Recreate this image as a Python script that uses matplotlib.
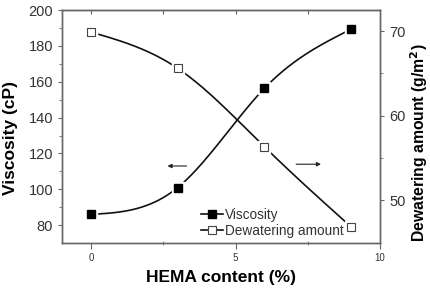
import numpy as np
import matplotlib
matplotlib.use("Agg")
import matplotlib.pyplot as plt
from matplotlib.lines import Line2D

plt.rcParams['font.family'] = ['Liberation Sans', 'DejaVu Sans']

# data
hema = [0, 3, 6, 9]
viscosity = [86, 101, 156.4, 189.4]
dewatering = [69.9, 65.6, 56.3, 46.8]


def smooth(x, y, n=200):
    # natural cubic spline through the points (Origin-style smoothed line)
    x = np.asarray(x, float)
    y = np.asarray(y, float)
    k = len(x)
    h = np.diff(x)
    A = np.zeros((k, k))
    b = np.zeros(k)
    A[0, 0] = A[-1, -1] = 1
    for i in range(1, k - 1):
        A[i, i - 1] = h[i - 1]
        A[i, i] = 2 * (h[i - 1] + h[i])
        A[i, i + 1] = h[i]
        b[i] = 3 * ((y[i + 1] - y[i]) / h[i] - (y[i] - y[i - 1]) / h[i - 1])
    c = np.linalg.solve(A, b)
    xs = np.linspace(x[0], x[-1], n)
    idx = np.clip(np.searchsorted(x, xs) - 1, 0, k - 2)
    dx = xs - x[idx]
    bb = (y[idx + 1] - y[idx]) / h[idx] - h[idx] * (2 * c[idx] + c[idx + 1]) / 3
    d = (c[idx + 1] - c[idx]) / (3 * h[idx])
    ys = y[idx] + bb * dx + c[idx] * dx ** 2 + d * dx ** 3
    return xs, ys


spine_col = '#666666'
text_col = '#333333'

fig = plt.figure(figsize=(4.31, 2.89), dpi=100)
ax = fig.add_axes([0.144, 0.159, 0.738, 0.806])
ax2 = ax.twinx()

xs, ys = smooth(hema, viscosity)
ax.plot(xs, ys, color='#111111', lw=1.2, zorder=2)
ax.plot(hema, viscosity, ls='none', marker='s', ms=9, mfc='white', mec='white', zorder=3)
ax.plot(hema, viscosity, ls='none', marker='s', ms=5.5, mfc='black', mec='black', zorder=4)

xs2, ys2 = smooth(hema, dewatering)
ax2.plot(xs2, ys2, color='#111111', lw=1.2, zorder=2)
ax2.plot(hema, dewatering, ls='none', marker='s', ms=9, mfc='white', mec='white', zorder=3)
ax2.plot(hema, dewatering, ls='none', marker='s', ms=5.5, mfc='white', mec='#444444', mew=0.8, zorder=4)

ax.set_xlim(-1, 10)
ax.set_ylim(70, 200)
ax2.set_ylim(44.9, 72.5)

ax.set_xticks([0, 5, 10])
ax.set_xticks([2.5, 7.5], minor=True)
ax.set_yticks(range(80, 201, 20))
ax.set_yticks(range(90, 200, 20), minor=True)
ax2.set_yticks([50, 60, 70])
ax2.set_yticks([55, 65], minor=True)

ax.tick_params(axis='x', which='major', direction='out', length=4, labelsize=7, colors=spine_col, labelcolor=text_col)
ax.tick_params(axis='x', which='minor', direction='inout', length=3, colors=spine_col)
ax.tick_params(axis='y', which='major', direction='out', length=3, labelsize=10.5, colors=spine_col, labelcolor=text_col)
ax.tick_params(axis='y', which='minor', direction='out', length=2, colors=spine_col)
ax2.tick_params(axis='y', which='major', direction='out', length=3, labelsize=10.5, colors=spine_col, labelcolor=text_col)
ax2.tick_params(axis='y', which='minor', direction='out', length=2, colors=spine_col)

top = ax.secondary_xaxis('top')
top.set_xticks([0, 2.5, 5, 7.5])
top.tick_params(direction='in', length=3, labeltop=False, colors=spine_col)
top.spines['top'].set_color(spine_col)

for a in (ax, ax2):
    for s in a.spines.values():
        s.set_color(spine_col)
        s.set_linewidth(1.0)

ax.set_xlabel('HEMA content (%)', fontsize=12.5, fontweight='bold', labelpad=5)
ax.set_ylabel('Viscosity (cP)', fontsize=12.5, fontweight='bold')
ax.yaxis.set_label_coords(-0.14, 0.45)
ax2.set_ylabel('Dewatering amount (g/m$^\\mathbf{2}$)', fontsize=11.3, fontweight='bold')
ax2.yaxis.set_label_coords(1.09, 0.43)

# direction arrows
ax.annotate('', xy=(2.55, 113), xytext=(3.4, 113),
            arrowprops=dict(arrowstyle='-|>', color='#222222', lw=0.8, mutation_scale=6))
ax.annotate('', xy=(8.05, 114), xytext=(7.0, 114),
            arrowprops=dict(arrowstyle='-|>', color='#222222', lw=0.8, mutation_scale=6))

handles = [
    Line2D([], [], color='#111111', lw=1.2, marker='s', ms=5.5, mfc='black', mec='black'),
    Line2D([], [], color='#111111', lw=1.2, marker='s', ms=5.5, mfc='white', mec='#444444', mew=0.8),
]
ax.legend(handles, ['Viscosity', 'Dewatering amount'], loc='lower right',
          bbox_to_anchor=(0.925, -0.03), frameon=False, fontsize=9.8,
          handlelength=1.6, handletextpad=0.2, labelspacing=0.15, labelcolor=text_col)

fig.savefig('out.png', dpi=100)
